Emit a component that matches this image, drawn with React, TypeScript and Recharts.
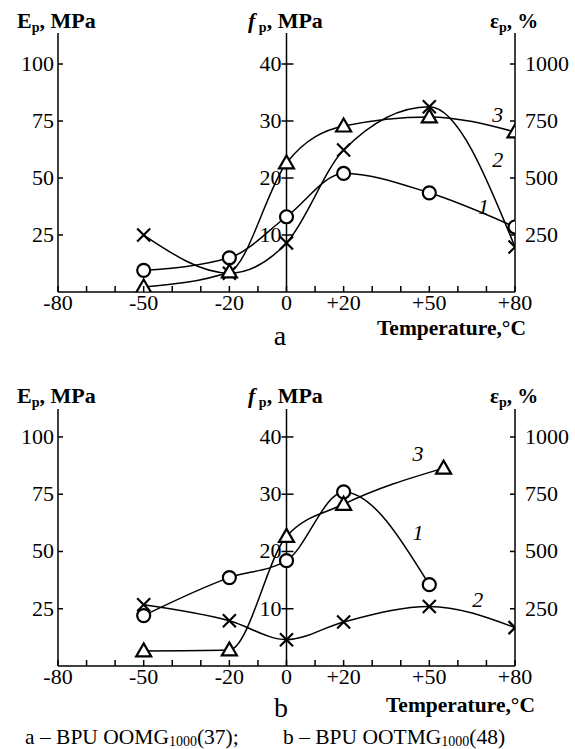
import { LineChart, Line, XAxis, YAxis, ReferenceLine, ReferenceDot } from "recharts";

const FONT = "Liberation Serif";

// panel a – temperatures, °C
const tempsA = [-50, -20, 0, 20, 50, 80];
const epA = [9.5, 15, 33, 52, 43.5, 28.5]; // curve 1, Ep, MPa
const fpA = [10, 3.3, 8.6, 24.9, 32.5, 7.9]; // curve 2, fp, MPa
const elA = [22, 88, 566, 728, 768, 702]; // curve 3, εp, %

// panel b
const tempsEpB = [-50, -20, 0, 20, 50];
const epB = [22, 38.6, 46, 76, 35.5];
const tempsFpB = [-50, -20, 0, 20, 50, 80];
const fpB = [10.7, 7.9, 4.6, 7.7, 10.4, 6.7];
const tempsElB = [-50, -20, 0, 20, 55];
const elB = [66, 70, 566, 706, 864];

const xTicks = [-80, -70, -60, -50, -40, -30, -20, -10, 0, 10, 20, 30, 40, 50, 60, 70, 80];
const xLabels = [-80, -50, -20, 0, 20, 50, 80];
const epTicks = [25, 50, 75, 100];
const fpTicks = [10, 20, 30, 40];
const elTicks = [250, 500, 750, 1000];

// curve number labels (temperature, Ep)
const notesA = [
  { text: "1", t: 69, e: 37.3 },
  { text: "2", t: 74, e: 58 },
  { text: "3", t: 74, e: 77.6 },
];
const notesB = [
  { text: "3", t: 46, e: 92.5 },
  { text: "1", t: 46, e: 58 },
  { text: "2", t: 67, e: 29 },
];

const pts = (xs: number[], ys: number[]) => xs.map((t, i) => ({ t, v: ys[i] }));

const Circle = (p: any) => (
  <circle key={p.index} cx={p.cx} cy={p.cy} r={6.5} fill="#fff" stroke="#000" strokeWidth={2.2} />
);
const Cross = (p: any) => {
  const d = 6.5;
  return (
    <path
      key={p.index}
      d={`M${p.cx - d},${p.cy - d}L${p.cx + d},${p.cy + d}M${p.cx + d},${p.cy - d}L${p.cx - d},${p.cy + d}`}
      stroke="#000"
      strokeWidth={2.2}
      fill="none"
    />
  );
};
const Tri = (p: any) => {
  const w = 7.5;
  return (
    <path
      key={p.index}
      d={`M${p.cx},${p.cy - 7.5}L${p.cx + w},${p.cy + 5.5}L${p.cx - w},${p.cy + 5.5}Z`}
      fill="#fff"
      stroke="#000"
      strokeWidth={2.2}
    />
  );
};

const fmtT = (v: number) => (v > 0 ? `+${v}` : `${v}`);

const XTick = (p: any) => {
  const v = p.payload.value;
  return (
    <g>
      <line x1={p.x} x2={p.x} y1={p.y} y2={p.y - 6} stroke="#000" strokeWidth={1.5} />
      {xLabels.includes(v) && (
        <text x={p.x} y={p.y + 18} textAnchor="middle" fontFamily={FONT} fontSize={22} fill="#000">
          {fmtT(v)}
        </text>
      )}
    </g>
  );
};
const LeftTick = (p: any) => (
  <g>
    <line x1={p.x} x2={p.x + 5} y1={p.y} y2={p.y} stroke="#000" strokeWidth={1.5} />
    <text x={p.x - 4} y={p.y + 7} textAnchor="end" fontFamily={FONT} fontSize={22} fill="#000">
      {p.payload.value}
    </text>
  </g>
);
const RightTick = (p: any) => (
  <g>
    <line x1={p.x} x2={p.x - 5} y1={p.y} y2={p.y} stroke="#000" strokeWidth={1.5} />
    <text x={p.x + 10} y={p.y + 7} textAnchor="start" fontFamily={FONT} fontSize={22} fill="#000">
      {p.payload.value}
    </text>
  </g>
);

interface PanelProps {
  top: number;
  mTop: number;
  mBottom: number;
  max: number;
  ep: { t: number; v: number }[];
  fp: { t: number; v: number }[];
  el: { t: number; v: number }[];
  notes: { text: string; t: number; e: number }[];
}

function Panel({ top, mTop, mBottom, max, ep, fp, el, notes }: PanelProps) {
  return (
    <div style={{ position: "absolute", left: 0, top }}>
      <LineChart width={575} height={340} margin={{ top: mTop, right: 0, bottom: mBottom, left: 0 }}>
        <XAxis
          dataKey="t"
          type="number"
          domain={[-80, 80]}
          ticks={xTicks}
          interval={0}
          allowDataOverflow
          height={30}
          tickSize={0}
          tickMargin={0}
          tickLine={false}
          tick={<XTick />}
          axisLine={{ stroke: "#000", strokeWidth: 1.5 }}
        />
        <YAxis
          yAxisId="E"
          orientation="left"
          width={58}
          domain={[0, max]}
          ticks={epTicks}
          interval={0}
          allowDataOverflow
          tickSize={0}
          tickMargin={0}
          tickLine={false}
          tick={<LeftTick />}
          axisLine={{ stroke: "#000", strokeWidth: 1.5 }}
        />
        <YAxis yAxisId="f" hide domain={[0, max * 0.4]} allowDataOverflow />
        <YAxis
          yAxisId="e"
          orientation="right"
          width={60}
          domain={[0, max * 10]}
          ticks={elTicks}
          interval={0}
          allowDataOverflow
          tickSize={0}
          tickMargin={0}
          tickLine={false}
          tick={<RightTick />}
          axisLine={{ stroke: "#000", strokeWidth: 1.5 }}
        />
        <ReferenceLine x={0} yAxisId="E" stroke="#000" strokeWidth={1.5} />
        {fpTicks.map((v) => (
          <ReferenceDot
            key={v}
            x={0}
            y={v}
            yAxisId="f"
            shape={(p: any) => (
              <g>
                <line x1={p.cx - 5} x2={p.cx + 7} y1={p.cy} y2={p.cy} stroke="#000" strokeWidth={1.5} />
                <text x={p.cx - 5} y={p.cy + 7} textAnchor="end" fontFamily={FONT} fontSize={22} fill="#000">
                  {v}
                </text>
              </g>
            )}
          />
        ))}
        <Line data={ep} dataKey="v" yAxisId="E" type="monotone" stroke="#000" strokeWidth={1.5} dot={Circle} isAnimationActive={false} />
        <Line data={fp} dataKey="v" yAxisId="f" type="monotone" stroke="#000" strokeWidth={1.5} dot={Cross} isAnimationActive={false} />
        <Line data={el} dataKey="v" yAxisId="e" type="monotone" stroke="#000" strokeWidth={1.5} dot={Tri} isAnimationActive={false} />
        {notes.map((n) => (
          <ReferenceDot
            key={n.text}
            x={n.t}
            y={n.e}
            yAxisId="E"
            shape={(p: any) => (
              <text x={p.cx} y={p.cy + 7} textAnchor="middle" fontFamily={FONT} fontStyle="italic" fontSize={22} fill="#000">
                {n.text}
              </text>
            )}
          />
        ))}
      </LineChart>
    </div>
  );
}

function Titles({ y }: { y: number }) {
  return (
    <g>
      <text x={17} y={y} fontFamily={FONT} fontWeight="bold" fontSize={22} fill="#000">
        E<tspan fontSize={14} dy={4}>p</tspan>
        <tspan dy={-4}>, MPa</tspan>
      </text>
      <text x={248} y={y} fontFamily={FONT} fontWeight="bold" fontSize={22} fill="#000">
        <tspan fontStyle="italic">f</tspan>
        <tspan fontSize={14} dy={4}> p</tspan>
        <tspan dy={-4}>, MPa</tspan>
      </text>
      <text x={490} y={y} fontFamily={FONT} fontWeight="bold" fontSize={21} fill="#000">
        ε<tspan fontSize={14} dy={4}>p</tspan>
        <tspan dy={-4}>, %</tspan>
      </text>
    </g>
  );
}

export default function App() {
  return (
    <div style={{ position: "absolute", left: 0, top: 0, width: 575, height: 749, background: "#fff" }}>
      <Panel top={0} mTop={33} mBottom={18} max={113.6} ep={pts(tempsA, epA)} fp={pts(tempsA, fpA)} el={pts(tempsA, elA)} notes={notesA} />
      <Panel
        top={370}
        mTop={39}
        mBottom={14}
        max={112.2}
        ep={pts(tempsEpB, epB)}
        fp={pts(tempsFpB, fpB)}
        el={pts(tempsElB, elB)}
        notes={notesB}
      />
      <svg width={575} height={749} style={{ position: "absolute", left: 0, top: 0, pointerEvents: "none" }}>
        <Titles y={28} />
        <Titles y={403} />
        <text x={377} y={335} fontFamily={FONT} fontWeight="bold" fontSize={21.5} fill="#000">Temperature,°C</text>
        <text x={280} y={345} textAnchor="middle" fontFamily={FONT} fontSize={28} fill="#000">a</text>
        <text x={386} y={712} fontFamily={FONT} fontWeight="bold" fontSize={21.5} fill="#000">Temperature,°C</text>
        <text x={281} y={717} textAnchor="middle" fontFamily={FONT} fontSize={28} fill="#000">b</text>
        <text x={25} y={744} fontFamily={FONT} fontSize={21.5} fill="#000">
          a – BPU OOMG<tspan fontSize={14} dy={2}>1000</tspan>
          <tspan dy={-2}>(37);</tspan>
        </text>
        <text x={283} y={744} fontFamily={FONT} fontSize={21.5} fill="#000">
          b – BPU OOTMG<tspan fontSize={14} dy={2}>1000</tspan>
          <tspan dy={-2}>(48)</tspan>
        </text>
      </svg>
    </div>
  );
}
